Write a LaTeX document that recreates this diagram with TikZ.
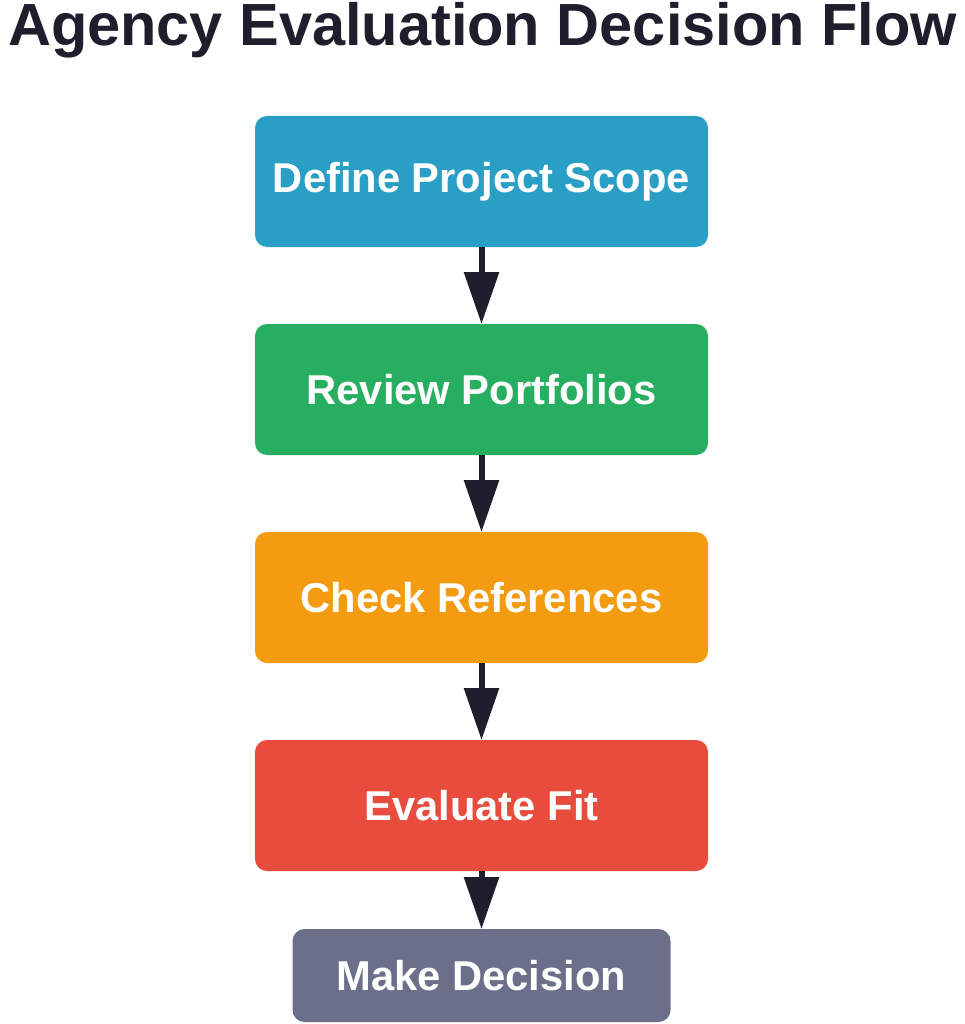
\documentclass[tikz,border=0pt]{standalone}
\usepackage{fontspec}
\setmainfont{Liberation Sans}
\usepackage{tikz}
\usetikzlibrary{arrows.meta,positioning}
\definecolor{inkdark}{HTML}{1E1E2C}
\definecolor{scopeblue}{HTML}{2A9FC6}
\definecolor{reviewgreen}{HTML}{27AE60}
\definecolor{checkorange}{HTML}{F39C12}
\definecolor{fitred}{HTML}{E74C3C}
\definecolor{decidegray}{HTML}{6B6F89}

\begin{document}
\begin{tikzpicture}[x=1pt,y=-1pt,->,>={Triangle[length=52pt,width=34pt]},
  line width=6pt,draw=inkdark,
  title node/.style={text=inkdark,font=\fontsize{59.5}{70}\selectfont\bfseries,inner sep=0pt,outer sep=0pt},
  main node/.style={rectangle,rounded corners=12pt,draw=none,text=white,inner sep=0pt,outer sep=0pt,
    minimum width=453pt,minimum height=131pt,font=\fontsize{41.7}{50}\selectfont\bfseries},
  end node/.style={main node,minimum width=378pt,minimum height=93pt}]

  \useasboundingbox (0,0) rectangle (965,1024);
  \fill[white] (0,0) rectangle (965,1024);

  \node[title node] (0) [anchor=base] at (482.5,46) {Agency Evaluation Decision Flow};
  \node[main node] (1) [fill=scopeblue] at (481.5,181.5) {Define Project Scope};
  \node[main node] (2) [fill=reviewgreen, below=77pt of 1] {Review Portfolios};
  \node[main node] (3) [fill=checkorange, below=77pt of 2] {Check References};
  \node[main node] (4) [fill=fitred, below=77pt of 3] {Evaluate Fit};
  \node[end node] (5) [fill=decidegray, below=58pt of 4] {Make Decision};

  \path[draw=inkdark]
    (1) edge (2)
    (2) edge (3)
    (3) edge (4)
    (4) edge (5);
\end{tikzpicture}
\end{document}
